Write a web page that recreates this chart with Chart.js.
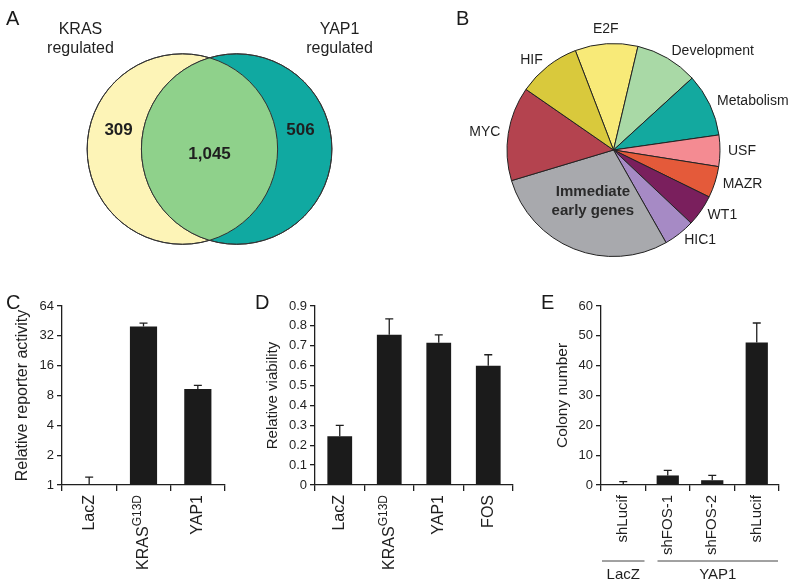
<!DOCTYPE html>
<html>
<head>
<meta charset="utf-8">
<script src="https://cdn.jsdelivr.net/npm/chart.js@4.4.1/dist/chart.umd.min.js"></script>
<style>
  body { margin: 0; background: #fff; }
  #fig { position: relative; width: 800px; height: 586px; font-family: "Liberation Sans", Arial, sans-serif; }
  #fig canvas { position: absolute; }
  .panel { position: absolute; font-size: 20px; line-height: 1; color: #1a1a1a; }
</style>
</head>
<body>
<div id="fig">
  <canvas id="venn" width="400" height="290" style="left:0;top:0"></canvas>
  <canvas id="pie" width="400" height="290" style="left:400px;top:0"></canvas>
  <canvas id="barC" width="270" height="296" style="left:0;top:290px"></canvas>
  <canvas id="barD" width="275" height="296" style="left:255px;top:290px"></canvas>
  <canvas id="barE" width="270" height="296" style="left:530px;top:290px"></canvas>
  <div class="panel" style="left:6px;top:8px">A</div>
  <div class="panel" style="left:456px;top:8px">B</div>
  <div class="panel" style="left:6px;top:292px">C</div>
  <div class="panel" style="left:255px;top:292px">D</div>
  <div class="panel" style="left:541px;top:292px">E</div>
</div>
<script>
// A : recouvrement des gènes régulés
const vennSets = ["KRAS\nregulated", "YAP1\nregulated"];
const vennCounts = [309, 1045, 506]; // KRAS seul, les deux, YAP1 seul

// B : signatures
const pieLabels = ["E2F", "Development", "Metabolism", "USF", "MAZR", "WT1", "HIC1",
  "Immediate\nearly genes", "MYC", "HIF"];
const pieValues = [2, 2, 2, 1, 1, 1, 1, 6, 3, 2];
const pieColors = ["#f8ea78", "#a9d9a6", "#13a99f", "#f48b92", "#e45a3a", "#7a1f5d",
  "#a68ac5", "#a8a9ad", "#b4434f", "#d9c93c"];

// C : activité du rapporteur (échelle log2)
const labelsC = ["LacZ", "KRAS^G13D", "YAP1"];
const valuesC = [1, 39.7, 9.3];
const errorsC = [0.2, 3.2, 0.8];
const ticksC = [1, 2, 4, 8, 16, 32, 64];

// D : viabilité
const labelsD = ["LacZ", "KRAS^G13D", "YAP1", "FOS"];
const valuesD = [0.245, 0.755, 0.715, 0.6];
const errorsD = [0.055, 0.08, 0.04, 0.055];

// E : colonies
const labelsE = ["shLucif", "shFOS-1", "shFOS-2", "shLucif"];
const valuesE = [0.3, 3.2, 1.6, 47.8];
const errorsE = [0.8, 1.7, 1.6, 6.5];
const groupsE = ["LacZ", "YAP1"];
const groupSizesE = [1, 3];

const INK = "#1f1f1f";
Chart.defaults.font.family = '"Liberation Sans", Arial, sans-serif';
Chart.defaults.color = INK;

// ---------- A : Venn ----------
const vennPlugin = {
  id: "vennOverlay",
  afterDatasetsDraw(chart) {
    const ctx = chart.ctx;
    const pts = chart.getDatasetMeta(0).data;
    const a = pts[0], b = pts[1];
    const r = a.options.radius;
    if (!(r > 1)) return;
    ctx.save();
    // zone commune
    ctx.beginPath();
    ctx.arc(a.x, a.y, r, 0, Math.PI * 2);
    ctx.clip();
    ctx.beginPath();
    ctx.arc(b.x, b.y, r, 0, Math.PI * 2);
    ctx.fillStyle = "#8fd18b";
    ctx.fill();
    ctx.restore();
    ctx.save();
    ctx.strokeStyle = "#333";
    ctx.lineWidth = 1;
    for (const p of [a, b]) {
      ctx.beginPath();
      ctx.arc(p.x, p.y, r, 0, Math.PI * 2);
      ctx.stroke();
    }
    // nombres
    ctx.fillStyle = INK;
    ctx.font = 'bold 17px "Liberation Sans", Arial, sans-serif';
    ctx.textAlign = "center";
    ctx.textBaseline = "middle";
    ctx.fillText(vennCounts[0].toString(), a.x - r * 0.67, a.y - r * 0.2);
    ctx.fillText(vennCounts[1].toLocaleString("en-US"), (a.x + b.x) / 2, a.y + r * 0.06);
    ctx.fillText(vennCounts[2].toString(), b.x + r * 0.67, b.y - r * 0.2);
    // noms des ensembles
    ctx.font = '16px "Liberation Sans", Arial, sans-serif';
    const setX = [a.x - r * 1.07, b.x + r * 1.08];
    vennSets.forEach((name, i) => {
      name.split("\n").forEach((line, k) => {
        ctx.fillText(line, setX[i], a.y - r * 1.25 + k * 19);
      });
    });
    ctx.restore();
  }
};

const vennChart = new Chart(document.getElementById("venn"), {
  type: "bubble",
  data: {
    datasets: [{
      data: [{ x: -0.285, y: 0, r: 1 }, { x: 0.285, y: 0, r: 1 }],
      backgroundColor: ["#fdf4b7", "#10a9a1"],
      borderColor: "#333",
      borderWidth: 1,
      clip: false
    }]
  },
  options: {
    responsive: false,
    animation: false,
    layout: { padding: 0, autoPadding: false },
    plugins: { legend: { display: false }, tooltip: { enabled: false } },
    scales: {
      x: { display: false, min: -2.2, max: 2.0 },
      y: { display: false, min: -1.48, max: 1.565 }
    }
  },
  plugins: [vennPlugin]
});
// rayon des cercles = une unité de l'échelle x
const unitPx = vennChart.scales.x.getPixelForValue(1) - vennChart.scales.x.getPixelForValue(0);
vennChart.data.datasets[0].data.forEach((d) => { d.r = unitPx; });
vennChart.update();

// ---------- B : camembert ----------
const pieLabelPlugin = {
  id: "pieLabels",
  afterDatasetsDraw(chart) {
    const ctx = chart.ctx;
    const arcs = chart.getDatasetMeta(0).data;
    ctx.save();
    ctx.fillStyle = INK;
    arcs.forEach((arc, i) => {
      const p = arc.getProps(["x", "y", "startAngle", "endAngle", "outerRadius"], true);
      const mid = (p.startAngle + p.endAngle) / 2;
      const c = Math.cos(mid), s = Math.sin(mid);
      const lines = pieLabels[i].split("\n");
      if (lines.length > 1) {
        ctx.font = 'bold 15px "Liberation Sans", Arial, sans-serif';
        ctx.fillStyle = "#2a2a2a";
        ctx.textAlign = "center";
        ctx.textBaseline = "middle";
        const cx = p.x + c * p.outerRadius * 0.52;
        const cy = p.y + s * p.outerRadius * 0.52;
        lines.forEach((l, k) => ctx.fillText(l, cx, cy + (k - (lines.length - 1) / 2) * 19));
        ctx.fillStyle = INK;
        return;
      }
      const r = p.outerRadius + 8;
      ctx.font = '14px "Liberation Sans", Arial, sans-serif';
      ctx.textAlign = Math.abs(c) < 0.25 ? "center" : (c > 0 ? "left" : "right");
      ctx.textBaseline = s < -0.9 ? "bottom" : (s > 0.9 ? "top" : "middle");
      ctx.fillText(lines[0], p.x + c * r, p.y + s * r);
    });
    ctx.restore();
  }
};

new Chart(document.getElementById("pie"), {
  type: "pie",
  data: {
    labels: pieLabels,
    datasets: [{
      data: pieValues,
      backgroundColor: pieColors,
      borderColor: "#222",
      borderWidth: 1
    }]
  },
  options: {
    responsive: false,
    animation: false,
    rotation: -21,
    layout: { padding: { left: 106, right: 79, top: 43, bottom: 33 } },
    plugins: { legend: { display: false }, tooltip: { enabled: false } }
  },
  plugins: [pieLabelPlugin]
});

// ---------- C, D, E : histogrammes ----------
const errorBarPlugin = {
  id: "errorBars",
  afterDatasetsDraw(chart, args, opts) {
    const ctx = chart.ctx;
    const yScale = chart.scales.y;
    const bars = chart.getDatasetMeta(0).data;
    const vals = chart.data.datasets[0].data;
    ctx.save();
    ctx.strokeStyle = INK;
    ctx.lineWidth = 1.3;
    bars.forEach((bar, i) => {
      const top = yScale.getPixelForValue(vals[i] + opts.errors[i]);
      ctx.beginPath();
      ctx.moveTo(bar.x, bar.y);
      ctx.lineTo(bar.x, top);
      ctx.moveTo(bar.x - 4, top);
      ctx.lineTo(bar.x + 4, top);
      ctx.stroke();
    });
    ctx.restore();
  }
};

const catLabelPlugin = {
  id: "catLabels",
  afterDraw(chart, args, opts) {
    const ctx = chart.ctx;
    const xScale = chart.scales.x;
    const y0 = chart.chartArea.bottom + 10;
    const mainFont = opts.size + 'px "Liberation Sans", Arial, sans-serif';
    const supFont = Math.round(opts.size * 0.72) + 'px "Liberation Sans", Arial, sans-serif';
    ctx.save();
    ctx.fillStyle = INK;
    ctx.textBaseline = "middle";
    chart.data.labels.forEach((lab, i) => {
      const x = xScale.getPixelForValue(i);
      const [main, sup] = lab.split("^");
      ctx.save();
      ctx.translate(x, y0);
      ctx.rotate(-Math.PI / 2);
      ctx.textAlign = "left";
      ctx.font = supFont;
      const wSup = sup ? ctx.measureText(sup).width : 0;
      ctx.font = mainFont;
      const wMain = ctx.measureText(main).width;
      ctx.fillText(main, -(wMain + wSup), 0);
      if (sup) {
        ctx.font = supFont;
        ctx.fillText(sup, -wSup, -opts.size * 0.35);
      }
      ctx.restore();
    });
    // groupes sous l'axe (panneau E)
    if (opts.groups) {
      let start = 0;
      ctx.strokeStyle = "#444";
      ctx.lineWidth = 1;
      ctx.font = mainFont;
      ctx.textAlign = "center";
      opts.groups.forEach((g, k) => {
        const n = opts.groupSizes[k];
        const half = (xScale.getPixelForValue(1) - xScale.getPixelForValue(0)) / 2;
        const x1 = xScale.getPixelForValue(start) - half + (k > 0 ? 12 : 1);
        const x2 = xScale.getPixelForValue(start + n - 1) + half - 1;
        const yl = chart.chartArea.bottom + 76;
        ctx.beginPath();
        ctx.moveTo(x1, yl);
        ctx.lineTo(x2, yl);
        ctx.stroke();
        ctx.fillText(g, (x1 + x2) / 2, yl + 14);
        start += n;
      });
    }
    ctx.restore();
  }
};

function barChart(id, labels, values, errors, cfg) {
  return new Chart(document.getElementById(id), {
    type: "bar",
    data: {
      labels: labels,
      datasets: [{
        data: values,
        backgroundColor: "#1b1b1b",
        borderWidth: 0,
        barPercentage: 0.5,
        categoryPercentage: 1
      }]
    },
    options: {
      responsive: false,
      animation: false,
      layout: { padding: { top: 16, right: cfg.right, left: 0, bottom: 0 } },
      plugins: {
        legend: { display: false },
        tooltip: { enabled: false },
        errorBars: { errors: errors },
        catLabels: { size: cfg.catSize, groups: cfg.groups, groupSizes: cfg.groupSizes }
      },
      scales: {
        x: {
          grid: { display: true, drawOnChartArea: false, drawTicks: true, tickLength: 6, color: INK, lineWidth: 1.3, offset: true },
          border: { display: true, color: INK, width: 1.3 },
          ticks: { display: false },
          afterFit: (s) => { s.height = 101; }
        },
        y: Object.assign({
          grid: { display: true, drawOnChartArea: false, drawTicks: true, tickLength: 5, color: INK, lineWidth: 1.3 },
          border: { display: true, color: INK, width: 1.3 },
          title: { display: true, text: cfg.title, font: { size: cfg.titleSize }, padding: { top: cfg.titlePad, bottom: 0 } },
          afterFit: (s) => { s.width = cfg.yWidth; }
        }, cfg.y)
      }
    },
    plugins: [errorBarPlugin, catLabelPlugin]
  });
}

barChart("barC", labelsC, valuesC, errorsC, {
  right: 45, yWidth: 62, title: "Relative reporter activity", titleSize: 16, titlePad: 13,
  catSize: 16,
  y: {
    type: "logarithmic", min: 1, max: 64,
    afterBuildTicks: (s) => { s.ticks = ticksC.map((v) => ({ value: v })); },
    ticks: { font: { size: 13 }, padding: 3, callback: (v) => String(v) }
  }
});

barChart("barD", labelsD, valuesD, errorsD, {
  right: 17, yWidth: 60, title: "Relative viability", titleSize: 15, titlePad: 9,
  catSize: 16,
  y: {
    min: 0, max: 0.9,
    ticks: { stepSize: 0.1, font: { size: 13 }, padding: 3, callback: (v) => (v === 0 ? "0" : v.toFixed(1)) }
  }
});

barChart("barE", labelsE, valuesE, errorsE, {
  right: 21, yWidth: 71, title: "Colony number", titleSize: 15.5, titlePad: 23,
  catSize: 15, groups: groupsE, groupSizes: groupSizesE,
  y: {
    min: 0, max: 60,
    ticks: { stepSize: 10, font: { size: 13 }, padding: 3 }
  }
});
</script>
</body>
</html>
